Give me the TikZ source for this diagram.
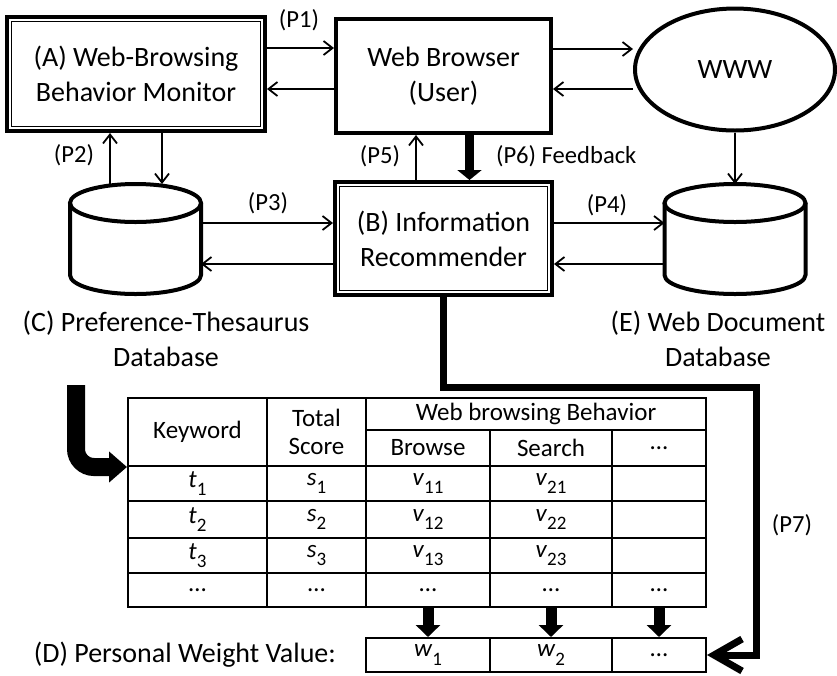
\documentclass[tikz,border=0pt]{standalone}
\usepackage{fontspec}
\setmainfont{Carlito}
\usetikzlibrary{arrows.meta, positioning, shapes.geometric}

\newcommand{\bigfont}{\fontsize{14}{17.5}\selectfont}
\newcommand{\pfont}{\fontsize{12.3}{14}\selectfont}
\newcommand{\tblfont}{\fontsize{12.5}{14}\selectfont}
\newcommand{\vsub}[2]{\textit{#1}\raisebox{-0.7ex}{\fontsize{9.5}{10}\selectfont #2}}
% thin inner line of the double-framed boxes
\newcommand{\innerframe}[1]{\draw[line width=0.5pt] ([shift={(3.2pt,3.2pt)}]#1.south west) rectangle ([shift={(-3.2pt,-3.2pt)}]#1.north east);}
% database drum around an empty node
\newcommand{\dbshape}[2]{%
  \draw[dbline] ([yshift=-9.5pt]#1.north west) -- ([yshift=9.5pt]#1.south west)
    arc[start angle=180, end angle=360, x radius=#2, y radius=9.5pt] -- ([yshift=-9.5pt]#1.north east);
  \draw[dbline] ([yshift=-9.5pt]#1.north) ellipse[x radius=#2, y radius=9.5pt];}

\begin{document}
\begin{tikzpicture}[x=0.5pt, y=-0.5pt,
    bigbox/.style={rectangle, draw, line width=2pt, align=center, font=\bigfont, inner sep=0pt,
      execute at begin node={\rule{0pt}{15pt}}},
    dbnode/.style={rectangle, inner sep=0pt, outer sep=0pt},
    dbline/.style={line width=2pt},
    cell/.style={draw, line width=1pt, inner sep=0pt, align=center, font=\tblfont},
    plabel/.style={font=\pfont},
    biglabel/.style={font=\bigfont, align=center},
    conn/.style={-{Straight Barb[length=4.5pt,width=7pt]}, line width=0.9pt},
    feedback/.style={-{Triangle[length=5pt,width=12pt]}, line width=4.5pt},
    fatarrow/.style={-{Triangle[length=6pt,width=12pt]}, line width=5.5pt},
    bentarrow/.style={-{Triangle[length=9pt,width=15pt]}, line width=9pt, rounded corners=9pt},
    p7line/.style={-{Straight Barb[length=14pt,width=16pt]}, line width=3.5pt, line join=miter}
]
\useasboundingbox (0,0) rectangle (837,676);

% Top row
\node[bigbox, minimum width=129pt, minimum height=57pt] (monitor) at (136,74) {(A) Web-Browsing\\Behavior Monitor};
\innerframe{monitor}
\node[bigbox, minimum width=107.5pt, minimum height=57pt] (browser) at (443.5,76) {Web Browser\\(User)};
\node[ellipse, draw, line width=2pt, minimum width=100pt, minimum height=61pt, font=\bigfont, inner sep=0pt] (www) at (735,69.5) {WWW};

% Middle row
\node[dbnode, minimum width=65.5pt, minimum height=55pt] (prefdb) at (135.5,239) {};
\dbshape{prefdb}{32.75pt}
\node[bigbox, minimum width=108.5pt, minimum height=56.5pt] (recommender) at (443.5,238.5) {(B) Information\\Recommender};
\innerframe{recommender}
\node[dbnode, minimum width=70.5pt, minimum height=55pt] (webdb) at (735,239) {};
\dbshape{webdb}{35.25pt}

\node[biglabel] (preflabel) at (166,339) {(C) Preference-Thesaurus\\Database};
\node[biglabel] (weblabel) at (718,339) {(E) Web Document\\Database};

% Connections
\draw[conn] (monitor.east |- 0,48) -- (browser.west |- 0,48);
\draw[conn] (browser.west |- 0,89) -- (monitor.east |- 0,89);
\draw[conn] (browser.east |- 0,49) -- (www.west |- 0,49);
\draw[conn] (www.west |- 0,89) -- (browser.east |- 0,89);
\draw[conn] (www) -- (webdb);
\draw[conn] (prefdb.north -| 110,0) -- (monitor.south -| 110,0);
\draw[conn] (monitor.south -| 162,0) -- (prefdb.north -| 162,0);
\draw[conn] (prefdb.east |- 0,223) -- (recommender.west |- 0,223);
\draw[conn] (recommender.west |- 0,264) -- (prefdb.east |- 0,264);
\draw[conn] (recommender.east |- 0,223) -- (webdb.west |- 0,223);
\draw[conn] (webdb.west |- 0,264) -- (recommender.east |- 0,264);
\draw[conn] (recommender.north -| 416,0) -- (browser.south -| 416,0);
\draw[feedback] (browser.south -| 469.5,0) -- (recommender.north -| 469.5,0);

\node[plabel] (p1label) at (299,20) {(P1)};
\node[plabel] (p2label) at (74,155) {(P2)};
\node[plabel] (p3label) at (268,203) {(P3)};
\node[plabel] (p4label) at (607,205) {(P4)};
\node[plabel] (p5label) at (380,156) {(P5)};
\node[plabel, anchor=west] (p6label) at (489,156) {(P6) Feedback};
\node[plabel] (p7label) at (792,525) {(P7)};

% Table
\node[cell, minimum width=69.5pt, minimum height=34pt] (kwhead) at (197.5,432) {Keyword};
\node[cell, minimum width=49.5pt, minimum height=34pt] (tothead) at (316.5,432) {Total\\Score};
\node[cell, minimum width=170pt, minimum height=16pt] (wbhead) at (536,414) {Web browsing Behavior};
\node[cell, minimum width=62pt, minimum height=18pt] (browsehead) at (428,448) {Browse};
\node[cell, minimum width=61pt, minimum height=18pt] (searchhead) at (551,448) {Search};
\node[cell, minimum width=47pt, minimum height=18pt] (morehead) at (659,448) {…};
\foreach \i/\yc/\h in {1/483.5/17.5pt, 2/519.5/18.5pt, 3/555.5/17.5pt} {
  \node[cell, minimum width=69.5pt, minimum height=\h] (kw\i) at (197.5,\yc) {\vsub{t}{\i}};
  \node[cell, minimum width=49.5pt, minimum height=\h] (sc\i) at (316.5,\yc) {\vsub{s}{\i}};
  \node[cell, minimum width=62pt, minimum height=\h] (br\i) at (428,\yc) {\vsub{v}{1\i}};
  \node[cell, minimum width=61pt, minimum height=\h] (se\i) at (551,\yc) {\vsub{v}{2\i}};
  \node[cell, minimum width=47pt, minimum height=\h] (mo\i) at (659,\yc) {};
}
\node[cell, minimum width=69.5pt, minimum height=17pt] (kw4) at (197.5,590) {…};
\node[cell, minimum width=49.5pt, minimum height=17pt] (sc4) at (316.5,590) {…};
\node[cell, minimum width=62pt, minimum height=17pt] (br4) at (428,590) {…};
\node[cell, minimum width=61pt, minimum height=17pt] (se4) at (551,590) {…};
\node[cell, minimum width=47pt, minimum height=17pt] (mo4) at (659,590) {…};

% Weight row
\node[cell, minimum width=62pt, minimum height=17pt] (w1) at (428,655) {\vsub{w}{1}};
\node[cell, minimum width=61pt, minimum height=17pt] (w2) at (551,655) {\vsub{w}{2}};
\node[cell, minimum width=47pt, minimum height=17pt] (wdots) at (659,655) {…};
\node[biglabel, left=11pt of w1] (weightlabel) {(D) Personal Weight Value:};

\foreach \a/\b in {br4/w1, se4/w2, mo4/wdots}
  \draw[fatarrow] (\a) -- (\b);

\coordinate (bendstart) at (76,385);
\draw[bentarrow] (bendstart) |- (kwhead.south west);

\coordinate (p7corner) at (756,387);
\draw[p7line] (recommender.south) |- (p7corner) |- (wdots.east);

\end{tikzpicture}
\end{document}
